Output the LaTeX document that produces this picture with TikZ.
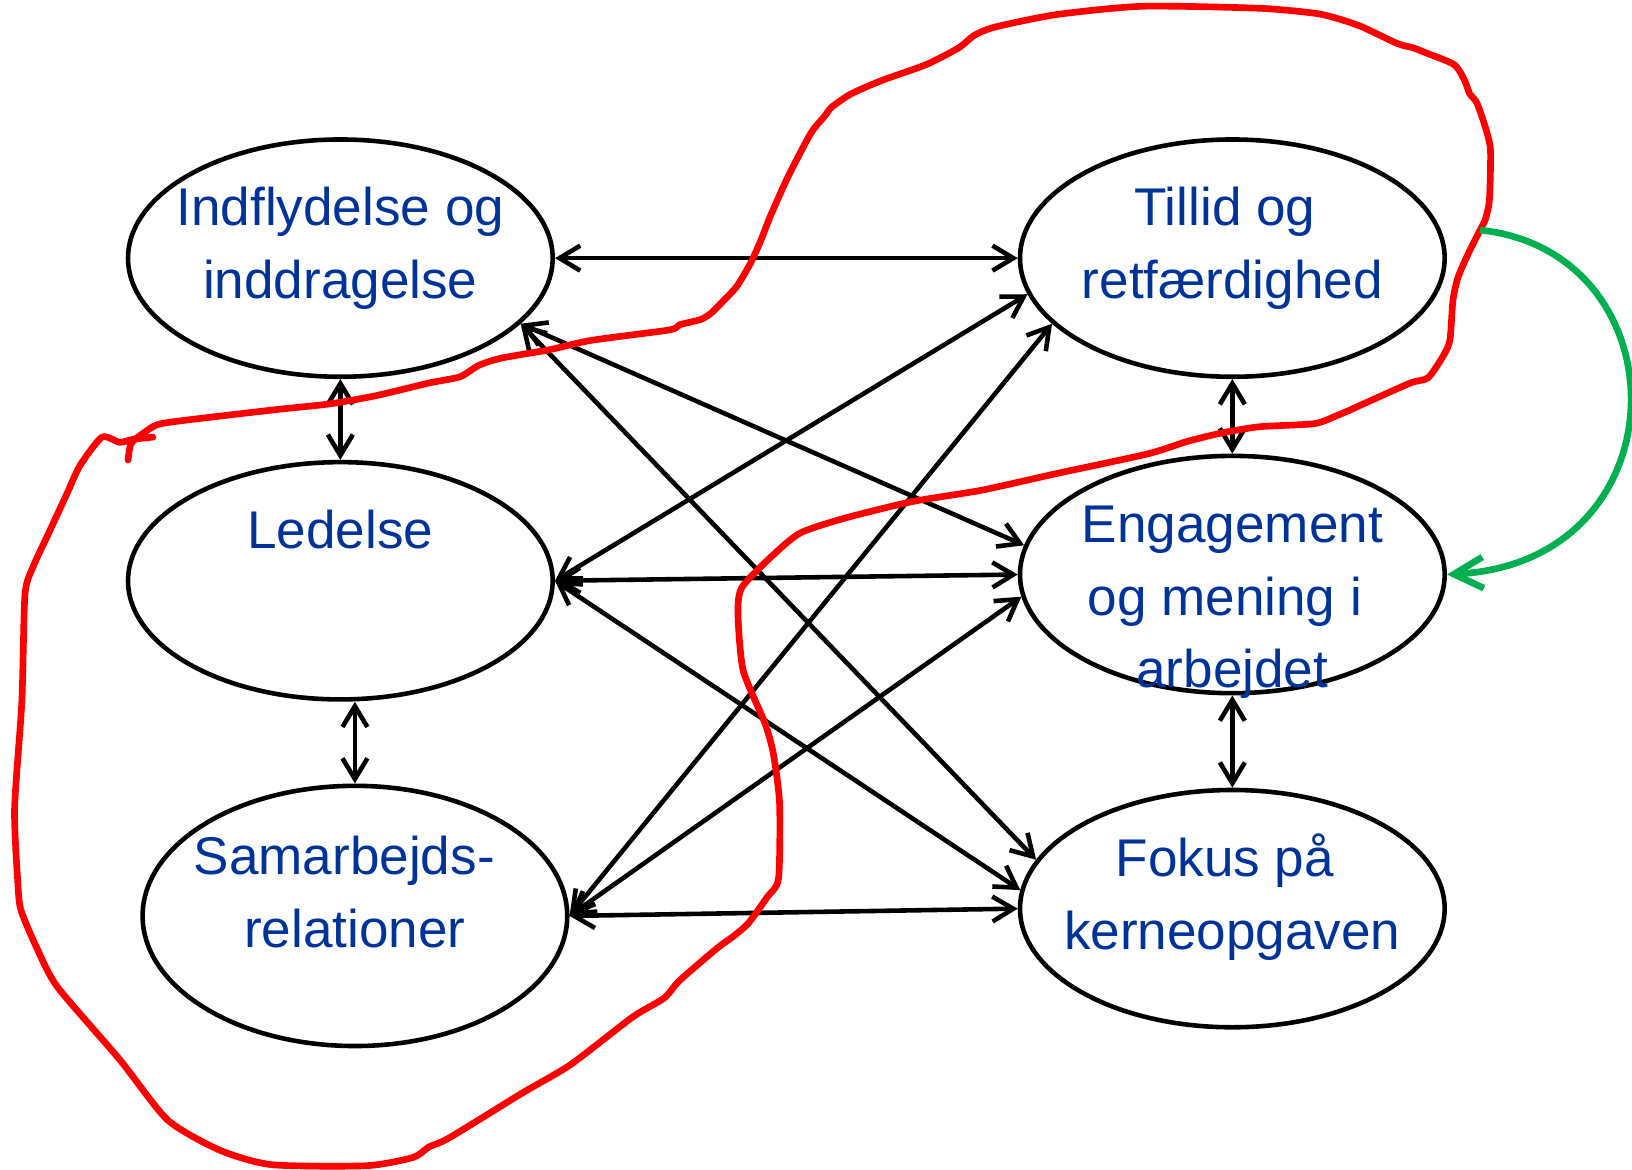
\documentclass[tikz,border=0pt]{standalone}
\usepackage{fontspec}
\setmainfont{Liberation Sans}
\usetikzlibrary{arrows.meta, shapes.geometric}
\definecolor{kblue}{HTML}{003399}
\definecolor{kred}{HTML}{FF0000}
\definecolor{kgreen}{HTML}{00B050}
\tikzset{
  every picture/.style={line width=2.2pt},
  blob/.style={draw, ellipse, minimum width=204pt, minimum height=#1, inner sep=0pt},
  blob/.default=114pt,
  lbl/.style={anchor=base, align=center, inner sep=0pt, text=kblue, font=\fontsize{25.5pt}{35pt}\selectfont},
  link/.style={{Straight Barb[length=10pt,width=12pt]}-{Straight Barb[length=10pt,width=12pt]}},
  loopline/.style={draw=kred, line width=3.2pt, line join=round, line cap=round},
  back/.style={-{Straight Barb[length=14pt,width=15pt]}, draw=kgreen, line width=3.2pt},
}

\begin{document}
\begin{tikzpicture}[x=0.5pt, y=-0.5pt]
  \useasboundingbox (0,0) rectangle (1568,1124);
  % factors
  \node[blob] (ind) at (327,248) {};
  \node[blob] (til) at (1184,248) {};
  \node[blob] (led) at (327,558) {};
  \node[blob] (eng) at (1184,552) {};
  \node[blob=125pt] (sam) at (341,880) {};
  \node[blob] (fok) at (1184,873) {};
  % links
  \draw[link] (ind.east) -- (til.west);
  \draw[link] (ind.south) -- (led.north);
  \draw[link] (sam.north |- led.south) -- (sam.north);
  \draw[link] (til.south) -- (eng.north);
  \draw[link] (eng.south) -- (fok.north);
  \draw[link] (led.east) -- (eng.west);
  \draw[link] (sam.east) -- (fok.west);
  \draw[link] (ind.-20) -- (eng.172);
  \draw[link] (ind.-20) -- (fok.166);
  \draw[link] (led.east) -- (til.190);
  \draw[link] (led.east) -- (fok.175);
  \draw[link] (sam.east) -- (til.200);
  \draw[link] (sam.east) -- (eng.186);
  % texts (base = last line)
  \node[lbl] (ind-t) at (327,287) {Indflydelse og\\inddragelse};
  \node[lbl] (til-t) at (1184,287) {Tillid og\kern.28em\\retfærdighed};
  \node[lbl] (led-t) at (327,527) {Ledelse};
  \node[lbl] (eng-t) at (1184,661) {Engagement\\og mening i\kern.28em\\arbejdet};
  \node[lbl] (sam-t) at (341,910) {Samarbejds-\kern.4em\\relationer};
  \node[lbl] (fok-t) at (1184,912) {Fokus på\kern.28em\\kerneopgaven};
  % hand drawn loop
  \draw[loopline] plot[smooth, tension=0.4] coordinates {
    (123,442) (126,426) (138,416) (151,408) (176,404) (261,394) (317,388)
    (362,380) (412,368) (442,362) (460,351) (482,344) (528,336) (568,327)
    (643,317) (653,312) (673,307) (683,301) (696,288) (708,275) (721,253)
    (731,231) (740,208) (757,170) (779,128) (792,112) (799,103) (818,90)
    (848,77) (890,62) (921,46) (936,34) (956,26) (1015,14) (1098,6)
    (1211,8) (1265,13) (1289,19) (1309,26) (1343,42) (1358,46) (1368,50)
    (1397,62) (1407,77) (1412,90) (1419,99) (1427,122) (1432,144) (1431,192)
    (1427,211) (1422,221) (1411,243) (1401,266) (1396,288) (1393,327)
    (1386,343) (1372,363) (1355,368) (1310,388) (1297,394) (1285,399)
    (1263,407) (1210,410) (1174,416) (1141,424) (1103,436) (1015,455)
    (943,471) (876,482) (811,498) (769,512) (743,533) (713,564) (709,589)
    (714,644) (735,695) (743,724) (749,772) (748,844) (737,862) (719,887)
    (704,900) (689,911) (653,942) (638,959) (608,977) (548,1023) (502,1050)
    (432,1093) (412,1102) (397,1112) (352,1120) (261,1119) (211,1105)
    (161,1076) (115,1018) (55,948) (35,910) (20,874) (17,846) (14,777)
    (21,674) (24,571) (32,544) (45,516) (64,475) (77,447) (98,420)
    (115,425) (128,422) (147,420)};
  \coordinate (gs) at (1422,221);
  \draw[back] (gs) .. controls (1619,242) and (1619,540) .. (eng.east);
\end{tikzpicture}
\end{document}
